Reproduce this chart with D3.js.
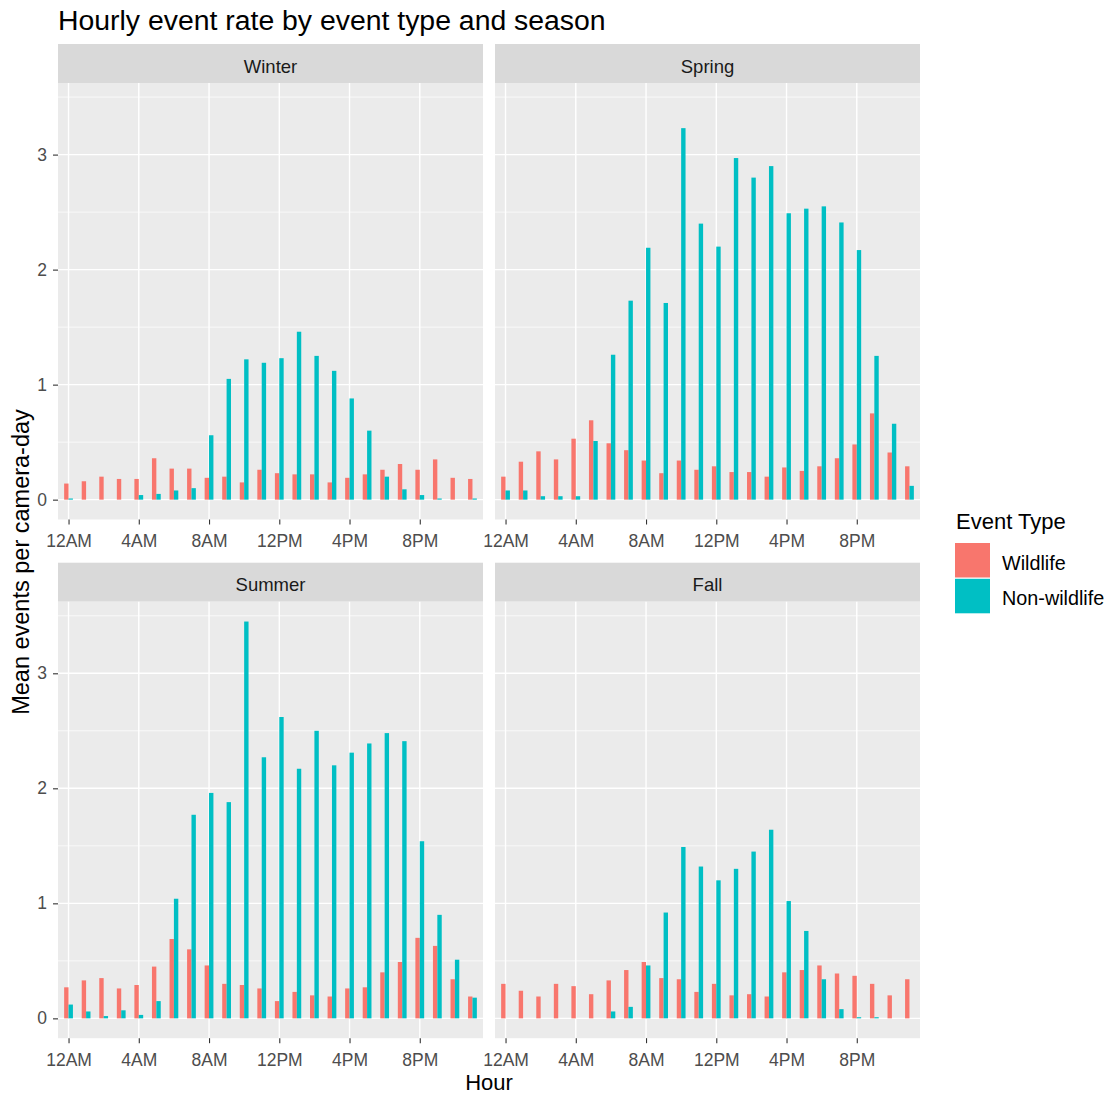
<!DOCTYPE html>
<html>
<head>
<meta charset="utf-8">
<script src="https://cdn.jsdelivr.net/npm/d3@7"></script>
<style>
  html, body { margin: 0; padding: 0; background: #ffffff; }
  svg { display: block; font-family: "Liberation Sans", Arial, sans-serif; }
</style>
</head>
<body>
<svg id="chart" width="1108" height="1097"></svg>
<script>
// Hour-of-day categories (0 = midnight) and the labelled breaks
const hours = [0,1,2,3,4,5,6,7,8,9,10,11,12,13,14,15,16,17,18,19,20,21,22,23];
const hourBreaks = [0,4,8,12,16,20];
const hourBreakLabels = ["12AM","4AM","8AM","12PM","4PM","8PM"];

const seasons = ["Winter","Spring","Summer","Fall"];
const eventTypes = ["Wildlife","Non-wildlife"];
const eventColors = ["#F8766D","#00BFC4"];

// Mean events per camera-day, by hour
const winterWildlife    = [0.14,0.16,0.20,0.18,0.18,0.36,0.27,0.27,0.19,0.20,0.15,0.26,0.23,0.22,0.22,0.15,0.19,0.22,0.26,0.31,0.26,0.35,0.19,0.18];
const winterNonWildlife = [0.01,0.00,0.00,0.00,0.04,0.05,0.08,0.10,0.56,1.05,1.22,1.19,1.23,1.46,1.25,1.12,0.88,0.60,0.20,0.09,0.04,0.01,0.00,0.01];
const springWildlife    = [0.20,0.33,0.42,0.35,0.53,0.69,0.49,0.43,0.34,0.23,0.34,0.26,0.29,0.24,0.24,0.20,0.28,0.25,0.29,0.36,0.48,0.75,0.41,0.29];
const springNonWildlife = [0.08,0.08,0.03,0.03,0.03,0.51,1.26,1.73,2.19,1.71,3.23,2.40,2.20,2.97,2.80,2.90,2.49,2.53,2.55,2.41,2.17,1.25,0.66,0.12];
const summerWildlife    = [0.27,0.33,0.35,0.26,0.29,0.45,0.69,0.60,0.46,0.30,0.29,0.26,0.15,0.23,0.20,0.19,0.26,0.27,0.40,0.49,0.70,0.63,0.34,0.19];
const summerNonWildlife = [0.12,0.06,0.02,0.07,0.03,0.15,1.04,1.77,1.96,1.88,3.45,2.27,2.62,2.17,2.50,2.20,2.31,2.39,2.48,2.41,1.54,0.90,0.51,0.18];
const fallWildlife      = [0.30,0.24,0.19,0.30,0.28,0.21,0.33,0.42,0.49,0.35,0.34,0.23,0.30,0.20,0.21,0.19,0.40,0.42,0.46,0.39,0.37,0.30,0.20,0.34];
const fallNonWildlife   = [0.00,0.00,0.00,0.00,0.00,0.00,0.06,0.10,0.46,0.92,1.49,1.32,1.20,1.30,1.45,1.64,1.02,0.76,0.34,0.08,0.01,0.01,0.00,0.00];

const yMajor = [0,1,2,3];
const yMinor = [0.5,1.5,2.5,3.5];

const seriesBySeason = {
  Winter: [winterWildlife, winterNonWildlife],
  Spring: [springWildlife, springNonWildlife],
  Summer: [summerWildlife, summerNonWildlife],
  Fall:   [fallWildlife, fallNonWildlife]
};

const svg = d3.select("#chart");

// Facet grid geometry
const colX = [[58, 483], [495, 920]];
const rowY = [{strip: [44, 83], plot: [83, 519.5]}, {strip: [562.7, 601.7], plot: [601.7, 1038.2]}];

const allValues = seasons.flatMap(s => seriesBySeason[s].flat());
const yMax = d3.max(allValues);

const gridMajor = 1.4, gridMinor = 0.7;

seasons.forEach((season, i) => {
  const col = i % 2, row = Math.floor(i / 2);
  const [x0, x1] = colX[col];
  const {strip, plot} = rowY[row];

  const x = d3.scalePoint().domain(hours).range([x0, x1]).padding(0.6);
  const y = d3.scaleLinear().domain([-0.05 * yMax, 1.05 * yMax]).range([plot[1], plot[0]]);
  const step = x.step();
  const barW = step * 0.25;

  const g = svg.append("g");

  // strip
  g.append("rect").attr("x", x0).attr("y", strip[0]).attr("width", x1 - x0)
    .attr("height", strip[1] - strip[0]).attr("fill", "#D9D9D9");
  g.append("text").attr("x", (x0 + x1) / 2).attr("y", strip[0] + 28.5)
    .attr("text-anchor", "middle").attr("font-size", 18.5).attr("fill", "#1A1A1A")
    .text(season);

  // panel background
  g.append("rect").attr("x", x0).attr("y", plot[0]).attr("width", x1 - x0)
    .attr("height", plot[1] - plot[0]).attr("fill", "#EBEBEB");

  // grid lines
  g.selectAll(".ymin").data(yMinor).join("line")
    .attr("x1", x0).attr("x2", x1).attr("y1", d => y(d)).attr("y2", d => y(d))
    .attr("stroke", "#ffffff").attr("stroke-width", gridMinor);
  g.selectAll(".ymaj").data(yMajor).join("line")
    .attr("x1", x0).attr("x2", x1).attr("y1", d => y(d)).attr("y2", d => y(d))
    .attr("stroke", "#ffffff").attr("stroke-width", gridMajor);
  g.selectAll(".xmaj").data(hourBreaks).join("line")
    .attr("x1", d => x(d)).attr("x2", d => x(d)).attr("y1", plot[0]).attr("y2", plot[1])
    .attr("stroke", "#ffffff").attr("stroke-width", gridMajor);

  // dodged bars
  seriesBySeason[season].forEach((vals, k) => {
    g.selectAll(null).data(hours).join("rect")
      .attr("x", h => x(h) - barW + k * barW)
      .attr("width", barW)
      .attr("y", h => Math.min(y(vals[h]), y(0)))
      .attr("height", h => Math.abs(y(0) - y(vals[h])))
      .attr("fill", eventColors[k]);
  });

  // x axis
  const xAxis = d3.axisBottom(x).tickValues(hourBreaks)
    .tickFormat(h => hourBreakLabels[hourBreaks.indexOf(h)])
    .tickSize(5).tickPadding(10);
  const ax = g.append("g").attr("transform", `translate(0,${plot[1]})`).call(xAxis);
  ax.select(".domain").remove();
  ax.selectAll("line").attr("stroke", "#333333").attr("stroke-width", 1.1);
  ax.selectAll("text").attr("font-size", 17.5).attr("fill", "#4D4D4D")
    .attr("font-family", "Liberation Sans, Arial, sans-serif").attr("dy", "0.71em");

  // y axis on the left column
  if (col === 0) {
    const yAxis = d3.axisLeft(y).tickValues(yMajor).tickFormat(d3.format("d"))
      .tickSize(5).tickPadding(6);
    const ay = g.append("g").attr("transform", `translate(${x0},0)`).call(yAxis);
    ay.select(".domain").remove();
    ay.selectAll("line").attr("stroke", "#333333").attr("stroke-width", 1.1);
    ay.selectAll("text").attr("font-size", 17.5).attr("fill", "#4D4D4D")
      .attr("font-family", "Liberation Sans, Arial, sans-serif");
  }
});

// title
svg.append("text").attr("x", 58).attr("y", 29.5).attr("font-size", 28.4).attr("fill", "#000")
  .text("Hourly event rate by event type and season");

// axis titles
svg.append("text").attr("x", (58 + 920) / 2).attr("y", 1090).attr("text-anchor", "middle")
  .attr("font-size", 22).attr("fill", "#000").text("Hour");
svg.append("text").attr("transform", "translate(29,562) rotate(-90)").attr("text-anchor", "middle")
  .attr("font-size", 23.5).attr("fill", "#000").text("Mean events per camera-day");

// legend
const lg = svg.append("g");
lg.append("text").attr("x", 956).attr("y", 528.5).attr("font-size", 22).attr("fill", "#000")
  .text("Event Type");
eventTypes.forEach((name, k) => {
  const top = 543 + k * 35.8;
  lg.append("rect").attr("x", 955).attr("y", top).attr("width", 35).attr("height", 34.5)
    .attr("fill", eventColors[k]);
  lg.append("text").attr("x", 1002).attr("y", top + 26.5).attr("font-size", 19.8)
    .attr("fill", "#000").text(name);
});
</script>
</body>
</html>
